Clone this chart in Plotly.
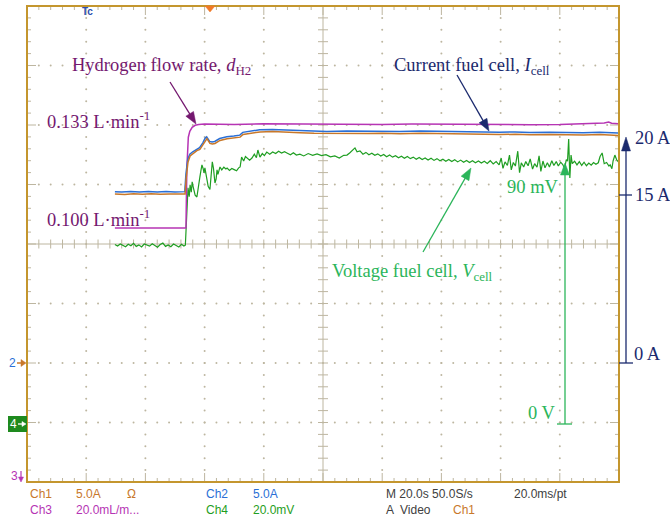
import plotly.graph_objects as go

# ---------------- data ----------------
# time in seconds (20 s/div, 10 divisions)
t_ch1 = [29.7, 33.0, 36.0, 39.0, 42.0, 45.0, 48.0, 51.0, 53.4, 53.8, 54.4, 55.1, 56.1, 57.4,
         58.4, 59.5, 60.3, 60.8, 61.8, 62.6, 63.5, 65.2, 67.6, 70.0, 72.0, 73.0, 76.0, 78.7,
         83.0, 87.8, 92.2, 97.0, 101.4, 108.1, 115.0, 120.0, 126.0, 133.0, 142.9, 150.0,
         155.0, 159.8, 165.0, 170.0, 176.7, 182.0, 188.0, 193.6, 199.7]
i_ch1 = [14.20, 14.17, 14.22, 14.19, 14.23, 14.18, 14.21, 14.17, 14.20, 15.60, 16.90, 17.40,
         17.60, 17.85, 17.95, 18.35, 18.75, 18.85, 18.45, 18.40, 18.45, 18.70, 18.85, 18.90,
         18.98, 19.20, 19.30, 19.42, 19.45, 19.42, 19.35, 19.30, 19.28, 19.30, 19.28, 19.30,
         19.26, 19.30, 19.27, 19.22, 19.18, 19.20, 19.22, 19.18, 19.20, 19.18, 19.15, 19.20,
         19.12]
t_ch2 = [29.7, 32.0, 35.0, 38.0, 41.0, 44.0, 47.0, 50.0, 53.3, 53.7, 54.3, 55.0, 56.0, 57.3,
         58.3, 59.4, 60.2, 60.7, 61.7, 62.5, 63.4, 65.1, 67.5, 69.9, 71.9, 72.9, 75.9, 78.6,
         82.9, 87.7, 92.1, 96.9, 101.3, 108.0, 114.9, 119.9, 125.9, 132.9, 142.8, 149.9,
         154.9, 159.7, 164.9, 169.9, 176.6, 181.9, 187.9, 193.5, 199.7]
i_ch2 = [14.40, 14.38, 14.42, 14.37, 14.41, 14.36, 14.42, 14.38, 14.40, 15.90, 17.10, 17.55,
         17.75, 17.98, 18.10, 18.50, 18.90, 19.00, 18.62, 18.58, 18.62, 18.86, 19.02, 19.08,
         19.15, 19.38, 19.48, 19.60, 19.63, 19.60, 19.53, 19.48, 19.46, 19.49, 19.46, 19.48,
         19.45, 19.49, 19.46, 19.41, 19.37, 19.40, 19.42, 19.37, 19.40, 19.37, 19.35, 19.40,
         19.33]
t_ch3 = [29.7, 40.0, 53.7, 54.0, 54.2, 54.5, 55.0, 55.8, 56.8, 58.0, 60.0, 70.0, 80.0, 90.0,
         100.0, 110.0, 120.0, 130.0, 140.0, 150.0, 160.0, 170.0, 180.0, 186.0, 190.0, 193.0,
         195.0, 196.5, 197.5, 199.7]
flow_ch3 = [100.0, 100.1, 100.0, 120.0, 128.0, 130.5, 132.5, 133.8, 134.5, 134.8, 134.9, 134.8,
            135.0, 134.9, 135.0, 134.9, 134.8, 134.9, 134.8, 134.7, 134.8, 134.7, 134.8, 134.9,
            135.0, 135.1, 135.3, 135.6, 135.2, 135.0]   # mL/min
t_ch4 = [29.7, 30.6, 31.5, 32.4, 33.3, 34.2, 35.1, 36.0, 36.9, 37.8, 38.7, 39.6, 40.5, 41.4,
         42.3, 43.2, 44.1, 45.0, 45.9, 46.8, 47.7, 48.6, 49.5, 50.4, 51.3, 52.2, 53.0, 53.5,
         53.8, 54.1, 54.4, 54.8, 55.1, 55.5, 55.8, 56.1, 56.5, 56.8, 57.4, 57.8, 58.4, 58.8,
         59.1, 59.5, 59.8, 60.1, 60.5, 60.8, 61.2, 61.8, 62.2, 62.6, 63.0, 63.5, 63.9, 64.2,
         64.5, 65.2, 65.8, 66.5, 67.2, 67.6, 68.4, 69.2, 70.0, 70.8, 71.5, 72.0, 72.5, 73.2,
         73.8, 74.5, 75.2, 76.0, 76.8, 77.5, 78.0, 78.7, 79.5, 80.2, 81.0, 82.0, 83.0, 84.0,
         85.0, 86.0, 87.0, 87.8, 89.0, 90.0, 91.0, 92.2, 93.5, 95.0, 96.5, 98.0, 99.5, 101.0,
         102.5, 104.0, 105.5, 107.0, 108.1, 109.0, 110.0, 110.8, 111.5, 112.5, 113.5, 114.5,
         115.5, 116.5, 117.5, 118.5, 119.5, 120.5, 121.5, 122.5, 123.5, 124.5, 125.5, 126.5,
         127.5, 128.5, 129.5, 130.5, 131.5, 132.5, 133.5, 134.5, 135.5, 136.5, 137.5, 138.5,
         139.5, 140.5, 141.5, 142.5, 143.5, 144.5, 145.5, 146.5, 147.5, 148.5, 149.5, 150.5,
         151.5, 152.5, 153.5, 154.5, 155.5, 156.5, 157.5, 158.5, 159.5, 160.2, 160.8, 161.5,
         162.3, 163.0, 163.6, 164.3, 165.0, 165.8, 166.4, 167.0, 167.8, 168.5, 169.3, 170.0,
         170.8, 171.5, 172.3, 173.0, 173.6, 174.3, 175.0, 175.8, 176.5, 177.3, 178.0, 178.8,
         179.5, 180.3, 181.0, 181.6, 182.2, 182.6, 183.0, 183.4, 183.8, 184.2, 185.0, 185.8,
         186.6, 187.4, 188.2, 189.0, 189.8, 190.6, 191.4, 192.2, 193.0, 193.6, 194.3, 195.0,
         195.8, 196.6, 197.0, 197.6, 198.0, 198.6, 199.2, 199.8]
v_ch4 = [60.4, 59.9, 60.6, 60.1, 59.7, 60.5, 60.0, 60.8, 59.8, 60.3, 59.6, 60.6, 60.2, 59.9,
         60.7, 60.0, 59.5, 60.4, 60.9, 59.8, 60.3, 59.7, 60.6, 60.1, 59.6, 60.5, 59.9, 60.2,
         66.0, 75.0, 79.5, 76.5, 80.5, 78.0, 81.5, 80.0, 78.5, 77.0, 76.4, 80.0, 83.1, 85.5,
         87.2, 86.0, 84.5, 86.2, 84.0, 81.1, 80.0, 78.9, 83.0, 88.2, 86.0, 81.1, 82.5, 85.5,
         84.0, 86.5, 85.5, 86.4, 85.8, 86.1, 85.3, 86.0, 85.6, 85.2, 86.2, 86.5, 89.8, 88.5,
         90.0, 89.3, 88.8, 89.5, 90.8, 89.6, 92.2, 89.8, 91.0, 90.3, 91.5, 90.8, 91.5, 91.0,
         91.8, 91.2, 91.6, 91.2, 90.6, 91.3, 90.5, 90.8, 90.2, 91.0, 90.4, 90.9, 90.3, 90.6,
         89.9, 90.2, 89.5, 90.4, 90.5, 91.2, 92.0, 92.9, 91.6, 91.9, 90.8, 91.4,
         90.6, 91.1, 90.4, 90.9, 90.2, 90.7, 89.9, 90.5, 89.8, 90.3, 89.6, 90.1,
         89.4, 90.0, 89.3, 89.8, 89.1, 89.7, 89.0, 89.5, 88.8, 89.4, 88.7, 89.3,
         88.6, 89.1, 88.4, 89.0, 88.3, 88.9, 88.2, 88.8, 88.1, 88.7, 88.0, 88.6,
         87.9, 88.5, 87.8, 88.4, 87.7, 88.6, 87.5, 88.3, 87.2, 89.5, 86.0, 88.2,
         87.0, 90.5, 85.5, 88.0, 86.8, 91.8, 84.6, 87.9, 86.5, 88.3, 86.9, 89.2,
         85.8, 87.6, 86.4, 90.2, 85.0, 88.5, 86.2, 87.9, 86.5, 88.6, 87.0, 88.3,
         86.8, 88.1, 87.3, 86.0, 89.0, 88.4, 95.9, 82.8, 90.5, 87.6, 88.4, 87.2,
         88.3, 87.0, 88.1, 86.9, 87.8, 87.1, 88.0, 87.4, 87.9, 90.0, 91.2, 87.6,
         88.0, 86.8, 87.2, 85.9, 88.5, 90.5, 88.9, 88.2]   # mV

# channel settings (scale per division, position of zero in divisions)
CH1_SCALE, CH1_POS = 5.0, -2.0
CH2_SCALE, CH2_POS = 5.0, -2.0
CH3_SCALE, CH3_POS = 20.0, -4.73
CH4_SCALE, CH4_POS = 20.0, -3.03

# ---------------- geometry ----------------
W, H = 670, 521
L, R, T, B = 27, 619, 6, 482
XMAX = 200.0
def X(px):  # paper x
    return (px - L) / (R - L)
def Y(py):  # paper y
    return (B - py) / (B - T)
SX = XMAX / (R - L)        # seconds per pixel
SY = 8.0 / (B - T)         # divisions per pixel

def to_div(vals, scale, pos):
    return [v / scale + pos for v in vals]

GRID = "#bdb6a0"
FRAME = "#c4962e"
ORANGE = "#c8782a"
BLUE = "#2a6fd6"
MAGENTA = "#b634b4"
GREEN = "#1f9e22"
PURPLE_TXT = "#74186f"
NAVY = "#1b2a6e"
LGREEN = "#2bb55a"
SERIF = "Liberation Serif, Times New Roman, serif"
SANS = "Liberation Sans, Arial, sans-serif"

fig = go.Figure()

# dotted graticule
gx, gy = [], []
for k in range(1, 10):
    if k == 5:
        continue
    for j in range(41):
        gx.append(20.0 * k); gy.append(-4 + 0.2 * j)
for k in range(-3, 4):
    if k == 0:
        continue
    for j in range(51):
        gx.append(4.0 * j); gy.append(float(k))
fig.add_trace(go.Scatter(x=gx, y=gy, mode="markers", hoverinfo="skip",
                         marker=dict(size=2, color=GRID), showlegend=False))

# tick marks: edges and centre cross
tx, ty = [], []
def seg(x0, y0, x1, y1):
    tx.extend([x0, x1, None]); ty.extend([y0, y1, None])
for j in range(1, 50):
    x = 4.0 * j
    major = (j % 5 == 0)
    ln = (9 if major else 4)
    seg(x, 4, x, 4 - ln * SY)
    seg(x, -4, x, -4 + ln * SY)
    seg(x, -4.5 * SY, x, 4.5 * SY)
for j in range(1, 40):
    y = -4 + 0.2 * j
    major = (j % 5 == 0)
    ln = (9 if major else 4)
    seg(0, y, ln * SX, y)
    seg(XMAX, y, XMAX - ln * SX, y)
    seg(100 - 5 * SX, y, 100 + 5 * SX, y)
seg(100, -4, 100, 4)
seg(0, 0, XMAX, 0)
fig.add_trace(go.Scatter(x=tx, y=ty, mode="lines", hoverinfo="skip",
                         line=dict(color=GRID, width=1), showlegend=False))

# waveforms
fig.add_trace(go.Scatter(x=t_ch4, y=to_div(v_ch4, CH4_SCALE, CH4_POS), mode="lines",
                         line=dict(color=GREEN, width=1.2), showlegend=False))
fig.add_trace(go.Scatter(x=t_ch3, y=to_div(flow_ch3, CH3_SCALE, CH3_POS), mode="lines",
                         line=dict(color=MAGENTA, width=1.5), showlegend=False))
fig.add_trace(go.Scatter(x=t_ch2, y=to_div(i_ch2, CH2_SCALE, CH2_POS), mode="lines",
                         line=dict(color=BLUE, width=1.5), showlegend=False))
fig.add_trace(go.Scatter(x=t_ch1, y=to_div(i_ch1, CH1_SCALE, CH1_POS), mode="lines",
                         line=dict(color=ORANGE, width=1.5), showlegend=False))

shapes = []
# frame
shapes.append(dict(type="rect", xref="paper", yref="paper", x0=0, y0=0, x1=1, y1=1,
                   line=dict(color=FRAME, width=2)))

def pline(x0, y0, x1, y1, color, width=1.3):
    shapes.append(dict(type="line", xref="paper", yref="paper", x0=X(x0), y0=Y(y0),
                       x1=X(x1), y1=Y(y1), line=dict(color=color, width=width)))

def arrow(x0, y0, x1, y1, color, hl=12, hw=9, width=1.3):
    dx, dy = x1 - x0, y1 - y0
    d = (dx * dx + dy * dy) ** 0.5
    ux, uy = dx / d, dy / d
    bx, by = x1 - hl * ux, y1 - hl * uy
    pline(x0, y0, bx + 0.1 * hl * ux, by + 0.1 * hl * uy, color, width)
    nx, ny = -uy, ux
    pts = [(x1, y1), (bx + nx * hw / 2, by + ny * hw / 2), (bx - nx * hw / 2, by - ny * hw / 2)]
    path = "M " + " L ".join("%.5f,%.5f" % (X(a), Y(b)) for a, b in pts) + " Z"
    shapes.append(dict(type="path", xref="paper", yref="paper", path=path,
                       fillcolor=color, line=dict(color=color, width=0.5)))

arrow(170, 82, 196, 124, PURPLE_TXT)
arrow(457, 75, 489, 131, NAVY)
arrow(423, 252, 471, 168, LGREEN)
arrow(565, 424, 565, 163, LGREEN)
pline(557, 424, 572, 424, LGREEN)
arrow(626, 363, 626, 137, NAVY, hl=14, hw=9)
pline(619, 363, 633, 363, NAVY)
pline(619, 195, 632, 195, NAVY)
# left channel markers
pline(17, 363, 22, 363, ORANGE, 1.5)
shapes.append(dict(type="path", xref="paper", yref="paper",
                   path="M %.5f,%.5f L %.5f,%.5f L %.5f,%.5f Z" % (X(26), Y(363), X(21), Y(359.5), X(21), Y(366.5)),
                   fillcolor=ORANGE, line=dict(color=ORANGE, width=0.5)))
shapes.append(dict(type="rect", xref="paper", yref="paper", x0=X(8), x1=X(27), y0=Y(432), y1=Y(416),
                   fillcolor="#1e8a1e", line=dict(width=0)))
pline(18, 424, 24, 424, "white", 1.3)
shapes.append(dict(type="path", xref="paper", yref="paper",
                   path="M %.5f,%.5f L %.5f,%.5f L %.5f,%.5f Z" % (X(26), Y(424), X(22), Y(421.5), X(22), Y(426.5)),
                   fillcolor="white", line=dict(color="white", width=0.5)))
pline(21, 471, 21, 479, MAGENTA, 1.2)
shapes.append(dict(type="path", xref="paper", yref="paper",
                   path="M %.5f,%.5f L %.5f,%.5f L %.5f,%.5f Z" % (X(21), Y(482), X(18.5), Y(477), X(23.5), Y(477)),
                   fillcolor=MAGENTA, line=dict(color=MAGENTA, width=0.5)))
# trigger marker (top)
shapes.append(dict(type="path", xref="paper", yref="paper",
                   path="M %.5f,%.5f L %.5f,%.5f L %.5f,%.5f Z" % (X(205), Y(6), X(215), Y(6), X(210), Y(12)),
                   fillcolor="#f07a28", line=dict(color="#f07a28", width=0.5)))

ann = []
def text(px, py, s, color, size=18.5, family=SERIF, anchor="left"):
    ann.append(dict(xref="paper", yref="paper", x=X(px), y=Y(py), text=s, showarrow=False,
                    xanchor=anchor, yanchor="middle", font=dict(family=family, size=size, color=color)))

text(70, 66, "Hydrogen flow rate, <i>d</i><sub>H2</sub>", PURPLE_TXT)
text(45, 120, "0.133 L·min<sup>-1</sup>", PURPLE_TXT)
text(45, 218, "0.100 L·min<sup>-1</sup>", PURPLE_TXT)
text(392, 66, "Current fuel cell, <i>I</i><sub>cell</sub>", NAVY)
text(330, 272, "Voltage fuel cell, <i>V</i><sub>cell</sub>", LGREEN)
text(505, 187, "90 mV", LGREEN)
text(558, 413, "0 V", LGREEN, anchor="right")
text(633, 138, "20 A", NAVY)
text(633, 195, "15 A", NAVY)
text(632, 354, "0 A", NAVY)

# small scope markers
text(12, 363, "2", BLUE, size=12, family=SANS, anchor="center")
text(13, 424, "4", "white", size=12, family=SANS, anchor="center")
text(14, 476, "3", MAGENTA, size=12, family=SANS, anchor="center")
text(87, 12, "<b>Tc</b>", "#2a4fb0", size=10, family=SANS, anchor="center")

# status line
GRAY = "#404040"
row1, row2 = 494, 510
for px, s, c in [(28, "Ch1", ORANGE), (74, "5.0A", ORANGE), (125, "Ω", ORANGE),
                 (204, "Ch2", BLUE), (251, "5.0A", BLUE),
                 (384, "M 20.0s 50.0S/s", GRAY), (512, "20.0ms/pt", GRAY)]:
    text(px, row1, s, c, size=12, family=SANS)
for px, s, c in [(28, "Ch3", MAGENTA), (74, "20.0mL/m...", MAGENTA),
                 (204, "Ch4", GREEN), (251, "20.0mV", GREEN),
                 (384, "A  Video", GRAY), (451, "Ch1", ORANGE)]:
    text(px, row2, s, c, size=12, family=SANS)

fig.update_layout(
    width=W, height=521, margin=dict(l=L, r=W - R, t=T, b=H - B, pad=0),
    paper_bgcolor="white", plot_bgcolor="white",
    xaxis=dict(range=[0, XMAX], visible=False, fixedrange=True),
    yaxis=dict(range=[-4, 4], visible=False, fixedrange=True),
    shapes=shapes, annotations=ann, showlegend=False,
)
fig.write_html("out.html", config={"displayModeBar": False},
               post_script="document.body.style.margin='0';document.body.style.overflow='hidden';")
